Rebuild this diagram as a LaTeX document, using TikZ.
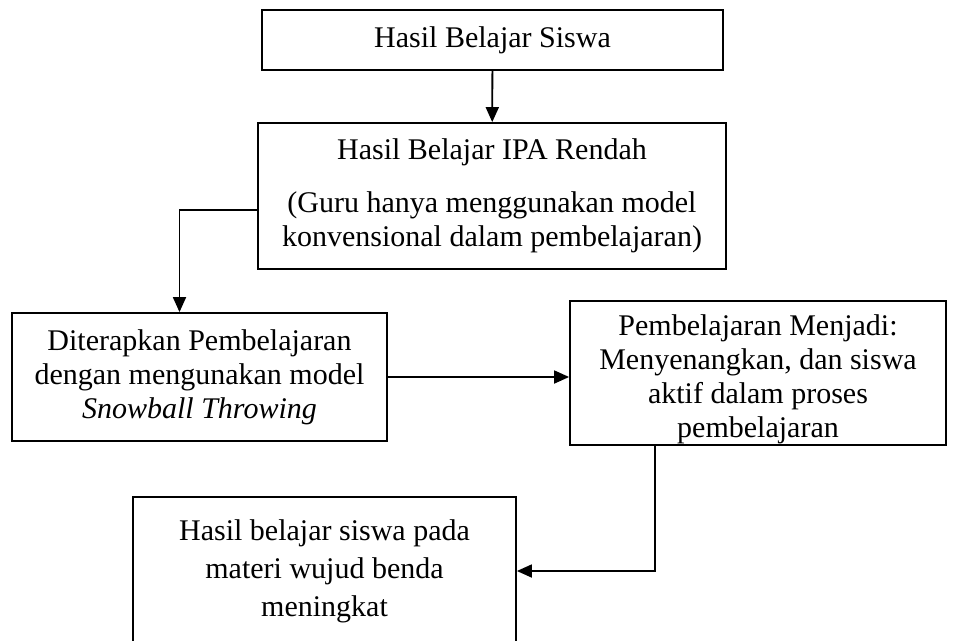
\documentclass[tikz,border=0pt]{standalone}
\usepackage{fontspec}
\setmainfont{Liberation Serif}
\usetikzlibrary{arrows.meta}

\begin{document}
\begin{tikzpicture}[x=1pt,y=-1pt]
	\useasboundingbox (0,0) rectangle (979,640);
	\begin{scope}[every node/.style={rectangle,draw,line width=1.8pt,align=center,inner sep=0pt,
	              font=\fontsize{30}{34}\selectfont}]
		\node[minimum width=461pt,minimum height=60pt] (1) at (492.5,40) {Hasil Belajar Siswa};
		\node[minimum width=468pt,minimum height=146pt] (2) at (492,196)
			{Hasil Belajar IPA Rendah\\[19pt] (Guru hanya menggunakan model\\ konvensional dalam pembelajaran)};
		\node[minimum width=375pt,minimum height=128pt] (3) at (199.5,377)
			{Diterapkan Pembelajaran\\ dengan mengunakan model\\ \textit{Snowball Throwing}};
		\node[minimum width=376pt,minimum height=144pt] (4) at (758,373)
			{\rule{0pt}{34pt}Pembelajaran Menjadi:\\ Menyenangkan, dan siswa\\ aktif dalam proses\\ pembelajaran};
		\node[minimum width=383pt,minimum height=148pt,font=\fontsize{30}{38}\selectfont] (5) at (324.5,571)
			{Hasil belajar siswa pada\\ materi wujud benda\\ meningkat};
	\end{scope}

	\begin{scope}[>={Triangle[length=15pt,width=13pt]}, line width=1.8pt]
		\draw[->] (1) -- (2);
		\draw[->] ([yshift=-14pt]2.west) -| ([xshift=-20pt]3.north);
		\draw[->] (3.east) -- (3.east -| 4.west);
		\draw[->] ([xshift=-103pt]4.south) |- (5.east);
	\end{scope}
\end{tikzpicture}
\end{document}
